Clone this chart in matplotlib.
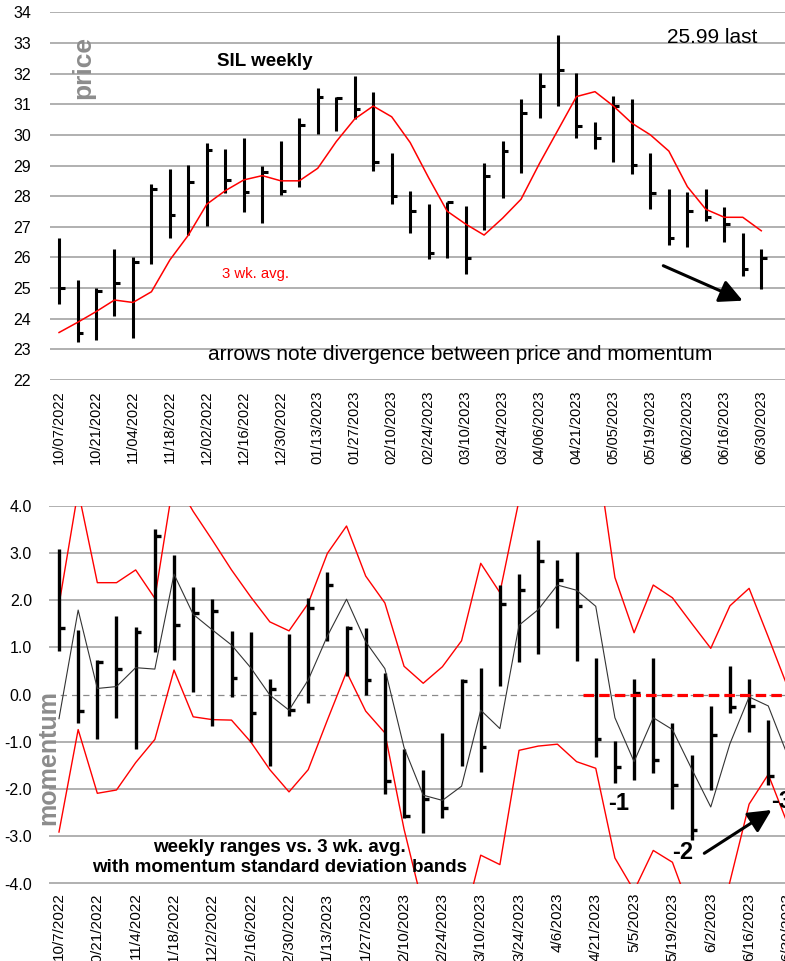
import matplotlib
matplotlib.use("Agg")
import matplotlib.pyplot as plt
import numpy as np

plt.rcParams['font.family'] = ['Liberation Sans', 'DejaVu Sans']

W, H = 785, 961

# ---------------- data ----------------
top_labels = ["10/07/2022", "10/21/2022", "11/04/2022", "11/18/2022", "12/02/2022",
              "12/16/2022", "12/30/2022", "01/13/2023", "01/27/2023", "02/10/2023",
              "02/24/2023", "03/10/2023", "03/24/2023", "04/06/2023", "04/21/2023",
              "05/05/2023", "05/19/2023", "06/02/2023", "06/16/2023", "06/30/2023"]
bottom_labels = ["10/7/2022", "10/21/2022", "11/4/2022", "11/18/2022", "12/2/2022",
                 "12/16/2022", "12/30/2022", "1/13/2023", "1/27/2023", "2/10/2023",
                 "2/24/2023", "3/10/2023", "3/24/2023", "4/6/2023", "4/21/2023",
                 "5/5/2023", "5/19/2023", "6/2/2023", "6/16/2023", "6/30/2023"]

price_high = [26.65, 25.26, 24.99, 26.27, 26.00, 28.40, 28.87, 29.02, 29.75, 29.53,
              29.89, 28.99, 29.81, 30.54, 31.52, 31.23, 31.92, 31.41, 29.42, 28.17,
              27.74, 27.82, 27.68, 29.07, 29.81, 31.17, 32.03, 33.26, 32.03, 30.43,
              31.28, 31.17, 29.40, 28.23, 28.13, 28.23, 27.66, 26.81, 26.26]
price_low = [24.48, 23.25, 23.30, 24.10, 23.36, 25.77, 26.62, 26.73, 27.04, 28.11,
             27.49, 27.13, 28.04, 28.31, 30.02, 30.14, 30.51, 28.83, 27.73, 26.79,
             25.94, 25.97, 25.46, 26.89, 27.95, 28.74, 30.56, 30.94, 29.91, 29.54,
             29.13, 28.72, 27.57, 26.40, 26.33, 27.19, 26.51, 25.39, 24.96]
price_close = [24.99, 23.52, 24.91, 25.15, 25.86, 28.23, 27.38, 28.45, 29.51, 28.53,
               28.12, 28.78, 28.17, 30.32, 31.25, 31.19, 30.83, 29.13, 28.00, 27.53,
               26.13, 27.80, 25.99, 28.66, 29.47, 30.72, 31.60, 32.12, 30.30, 29.91,
               30.95, 29.02, 28.11, 26.62, 27.51, 27.31, 27.08, 25.61, 25.99]
avg3 = [23.55, 23.88, 24.23, 24.61, 24.53, 24.88, 25.92, 26.73, 27.74, 28.18,
        28.53, 28.67, 28.50, 28.50, 28.91, 29.78, 30.52, 30.94, 30.59, 29.75,
        28.60, 27.51, 27.09, 26.73, 27.28, 27.90, 29.07, 30.16, 31.25, 31.41,
        30.94, 30.38, 30.00, 29.47, 28.31, 27.57, 27.31, 27.31, 26.87]

mom_high = [3.08, 1.37, 0.74, 1.67, 1.44, 3.50, 2.95, 2.27, 2.02, 1.35,
            1.33, 0.32, 1.28, 2.04, 2.60, 1.45, 1.42, 0.45, -1.16, -1.59,
            -0.82, 0.33, 0.57, 2.33, 2.55, 3.27, 2.85, 3.03, 0.77, -0.99,
            0.34, 0.78, -0.61, -1.27, -0.24, 0.61, 0.33, -0.53]
mom_low = [0.93, -0.60, -0.93, -0.49, -1.16, 0.91, 0.74, 0.05, -0.67, -0.06,
           -1.01, -1.51, -0.45, -0.17, 1.14, 0.39, -0.01, -2.11, -2.62, -2.94,
           -2.61, -1.52, -1.64, 0.19, 0.69, 0.87, 1.40, 0.72, -1.32, -1.87,
           -1.80, -1.67, -2.43, -3.07, -2.01, -0.40, -0.79, -1.92]
mom_close = [1.42, -0.35, 0.68, 0.55, 1.33, 3.36, 1.47, 1.73, 1.78, 0.36,
             -0.40, 0.12, -0.33, 1.84, 2.33, 1.40, 0.31, -1.83, -2.57, -2.22,
             -2.41, 0.29, -1.11, 1.91, 2.21, 2.83, 2.43, 1.87, -0.93, -1.53,
             0.04, -1.39, -1.92, -2.86, -0.86, -0.27, -0.24, -1.73]
mom_avg = [-0.51, 1.79, 0.13, 0.17, 0.57, 0.54, 2.55, 1.70, 1.37, 1.05,
           0.57, -0.01, -0.33, 0.31, 1.24, 2.02, 1.12, 0.55, -1.12, -2.13,
           -2.24, -1.94, -0.33, -0.72, 1.47, 1.80, 2.32, 2.21, 1.87, -0.49,
           -1.42, -0.49, -0.74, -1.57, -2.38, -1.04, -0.05, -0.24, -1.28]
band_upper = [1.90, 4.32, 2.37, 2.37, 2.64, 2.04, 4.58, 3.88, 3.27, 2.64,
              2.07, 1.54, 1.35, 1.93, 2.99, 3.57, 2.51, 1.94, 0.60, 0.24,
              0.59, 1.14, 2.78, 2.16, 4.12, 4.69, 5.69, 5.84, 5.30, 2.48,
              1.31, 2.32, 2.05, 1.51, 0.98, 1.88, 2.25, 1.22, 0.17]
band_lower = [-2.91, -0.74, -2.09, -2.02, -1.44, -0.95, 0.52, -0.47, -0.53, -0.54,
              -1.00, -1.59, -2.06, -1.59, -0.54, 0.48, -0.35, -0.81, -2.85, -4.50,
              -5.07, -5.02, -3.40, -3.60, -1.18, -1.09, -1.05, -1.42, -1.56, -3.46,
              -4.15, -3.30, -3.55, -4.65, -5.74, -3.96, -2.32, -1.69, -2.73]
zero_marker_start = 27.35   # red dashed zero line starts here (category index)

price_ticks = list(range(22, 35))
mom_ticks = [-4, -3, -2, -1, 0, 1, 2, 3, 4]

# ---------------- figure ----------------
fig = plt.figure(figsize=(W / 100, H / 100), dpi=100)

def P(x, y):
    return (x / W, 1 - y / H)

grid_c = '#a3a3a3'

# ---- top panel ----
n_top = len(price_close)
xt = np.arange(n_top)
ax1 = fig.add_axes([49.8 / W, 1 - 380 / H, 40 * 18.48 / W, (380 - 12.3) / H])
ax1.set_xlim(-0.5, 39.5)
ax1.set_ylim(22, 34)
for v in price_ticks:
    ax1.axhline(v, color=grid_c, lw=1.2, zorder=1)
ax1.vlines(xt, price_low, price_high, color='black', lw=2.2, zorder=3)
ax1.hlines(price_close, xt, xt + 0.30, color='black', lw=2.2, zorder=3)
ax1.plot(xt, avg3, color='red', lw=1.1, zorder=4)
ax1.set_yticks(price_ticks)
ax1.set_yticklabels([str(v) for v in price_ticks], fontsize=11.5)
ax1.set_xticks(np.arange(0, n_top, 2))
ax1.set_xticklabels(top_labels, rotation=90, fontsize=10.5)
ax1.tick_params(axis='both', length=0)
ax1.tick_params(axis='y', pad=13.5)
ax1.tick_params(axis='x', pad=7.5)
for s in ax1.spines.values():
    s.set_visible(False)
ax1.set_facecolor('none')

# ---- bottom panel ----
n_bar = len(mom_close)
xb = np.arange(n_bar)
xl = np.arange(len(mom_avg))
ax2 = fig.add_axes([49.4 / W, 1 - 883.5 / H, 40 * 19.17 / W, (883.5 - 505.7) / H])
ax2.set_xlim(-0.5, 39.5)
ax2.set_ylim(-4, 4)
for v in mom_ticks:
    if v == 0:
        ax2.axhline(v, color='#8a8a8a', lw=0.9, dashes=(5, 4), zorder=1)
    else:
        ax2.axhline(v, color=grid_c, lw=1.2, zorder=1)
ax2.plot(xl, band_upper, color='red', lw=1.0, zorder=2)
ax2.plot(xl, band_lower, color='red', lw=1.0, zorder=2)
ax2.plot(xl, mom_avg, color='#333333', lw=0.8, zorder=4)
ax2.vlines(xb, mom_low, mom_high, color='black', lw=2.4, zorder=3)
ax2.hlines(mom_close, xb, xb + 0.30, color='black', lw=2.4, zorder=3)
ax2.plot([zero_marker_start, 39.5], [0, 0], color='red', lw=2.3,
         dashes=(3.3, 1.6), solid_capstyle='butt', dash_capstyle='butt', zorder=5)
ax2.set_yticks(mom_ticks)
ax2.set_yticklabels(['%.1f' % v for v in mom_ticks], fontsize=11.5)
ax2.set_xticks(np.arange(0, len(mom_avg), 2))
ax2.set_xticklabels(bottom_labels, rotation=90, fontsize=11)
ax2.tick_params(axis='both', length=0)
ax2.tick_params(axis='y', pad=12.5)
ax2.tick_params(axis='x', pad=6.5)
for s in ax2.spines.values():
    s.set_visible(False)
ax2.set_facecolor('none')

# ---------------- annotations ----------------
gray_lab = '#8c8c8c'
fig.text(*P(83, 67), 'price', rotation=90, ha='center', va='center',
         fontsize=19, fontweight='bold', color=gray_lab)
fig.text(*P(264.7, 61), 'SIL weekly', ha='center', va='center',
         fontsize=13.5, fontweight='bold', color='black')
fig.text(*P(712.5, 37.5), '25.99 last', ha='center', va='center',
         fontsize=15, color='black')
fig.text(*P(255, 274), '3 wk. avg.', ha='center', va='center',
         fontsize=10.7, color='red')
fig.text(*P(460.3, 354.5), 'arrows note divergence between price and momentum',
         ha='center', va='center', fontsize=15, color='black')

fig.text(*P(48.3, 757.5), 'momentum', rotation=90, ha='center', va='center',
         fontsize=18, fontweight='bold', color=gray_lab)
fig.text(*P(279.5, 847), 'weekly ranges vs. 3 wk. avg.', ha='center', va='center',
         fontsize=13.5, fontweight='bold', color='black')
fig.text(*P(279.5, 868), 'with momentum standard deviation bands', ha='center',
         va='center', fontsize=13.5, fontweight='bold', color='black')
fig.text(*P(618.5, 803), '-1', ha='center', va='center', fontsize=17,
         fontweight='bold', color='black')
fig.text(*P(683, 852.5), '-2', ha='center', va='center', fontsize=17,
         fontweight='bold', color='black')
fig.text(*P(771.5, 802), '-3', ha='left', va='center', fontsize=17,
         fontweight='bold', color='black')

arrow_kw = dict(arrowstyle='-|>,head_length=0.7,head_width=0.35', lw=2.2,
                color='black', mutation_scale=20, shrinkA=0, shrinkB=0)
fig.add_artist(matplotlib.patches.FancyArrowPatch(P(663.3, 265.7), P(742.7, 300.7),
                                                  transform=fig.transFigure, **arrow_kw))
fig.add_artist(matplotlib.patches.FancyArrowPatch(P(704.3, 853.3), P(771.5, 810),
                                                  transform=fig.transFigure, **arrow_kw))

fig.savefig('out.png', dpi=100)
